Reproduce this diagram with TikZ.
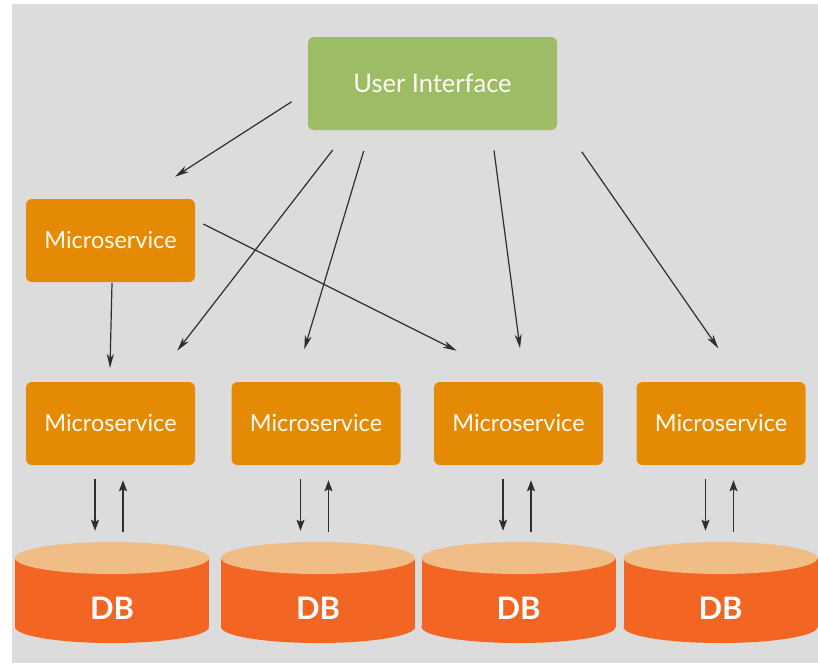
\documentclass[tikz,border=0pt]{standalone}
\usepackage{fontspec}
\setmainfont{Lato}
\usetikzlibrary{arrows.meta,calc,shapes.geometric}

\definecolor{panel}{HTML}{DCDCDC}
\definecolor{uigreen}{HTML}{9CBC65}
\definecolor{msorange}{HTML}{E48A04}
\definecolor{dbbody}{HTML}{F26522}
\definecolor{dbtop}{HTML}{F0BD86}
\definecolor{arrowgrey}{HTML}{2E2E2E}
\definecolor{labelwhite}{HTML}{FFFBF0}

\begin{document}
\begin{tikzpicture}[x=1pt,y=-1pt,
  box/.style={rounded corners=6pt, inner sep=0pt, text=labelwhite,
              font=\fontsize{23.5}{28}\selectfont},
  uibox/.style={box, fill=uigreen, minimum width=249pt, minimum height=93pt,
                font=\fontsize{25.5}{30}\selectfont},
  msbox/.style={box, fill=msorange, minimum width=169pt, minimum height=83pt},
  dblid/.style={ellipse, fill=dbtop, inner sep=0pt,
                minimum width=194pt, minimum height=32pt},
  dblabel/.style={text=white, font=\fontsize{31}{36}\selectfont\bfseries},
  flow/.style={draw=arrowgrey, line width=1.2pt,
               -{Stealth[length=14pt,width=7pt,inset=4pt]}},
  dbflow/.style={draw=arrowgrey, line width=1.5pt,
                 -{Stealth[length=11pt,width=8pt,inset=2pt]}}
]
\useasboundingbox (0,0) rectangle (818,665);
\fill[white] (0,0) rectangle (818,665);
\fill[panel] (12,4) rectangle (818,663);

% services
\node[uibox] (ui)  at (432.5,83.5)  {User Interface};
\node[msbox] (ms0) at (110.5,240.5) {Microservice};
\node[msbox] (ms1) at (110.5,423.5) {Microservice};
\node[msbox] (ms2) at (316,423.5)   {Microservice};
\node[msbox] (ms3) at (518.5,423.5) {Microservice};
\node[msbox] (ms4) at (721,423.5)   {Microservice};

% databases: body, bottom rim, lid and label
\foreach \i/\cx in {1/112, 2/318, 3/518.5, 4/720.5} {
  \fill[dbbody] (\cx-97,558) rectangle (\cx+97,627);
  \fill[dbbody] (\cx,627) ellipse[x radius=97, y radius=16];
  \node[dblid] (db\i) at (\cx,558) {};
  \node[dblabel] (dbl\i) at (\cx,608) {DB};
}

% request / response arrows between each service and its database
\foreach \i in {1,2,3,4} {
  \draw[dbflow] ($(ms\i.south)+(-15.5,14)$) -- ($(ms\i.south |- db\i.north)+(-15.5,-11)$);
  \draw[dbflow] ($(ms\i.south |- db\i.north)+(12.5,-10)$) -- ($(ms\i.south)+(12.5,15)$);
}

% loose arrow end points around the top-level calls
\coordinate (a1s) at (291.7,101.7); \coordinate (a1e) at (175,176.7);
\coordinate (a2s) at (332.7,150);   \coordinate (a2e) at (177.3,350.7);
\coordinate (a3s) at (363.7,151);   \coordinate (a3e) at (304.3,349.3);
\coordinate (a4s) at (203.3,224);   \coordinate (a4e) at (456.7,350.7);
\coordinate (a5s) at (494,150.5);   \coordinate (a5e) at (520,348.3);
\coordinate (a6s) at (581.7,151.7); \coordinate (a6e) at (718.3,348.3);
\coordinate (a7s) at (112,283);     \coordinate (a7e) at (110,368);

\foreach \k in {1,...,7} \draw[flow] (a\k s) -- (a\k e);
\end{tikzpicture}
\end{document}
